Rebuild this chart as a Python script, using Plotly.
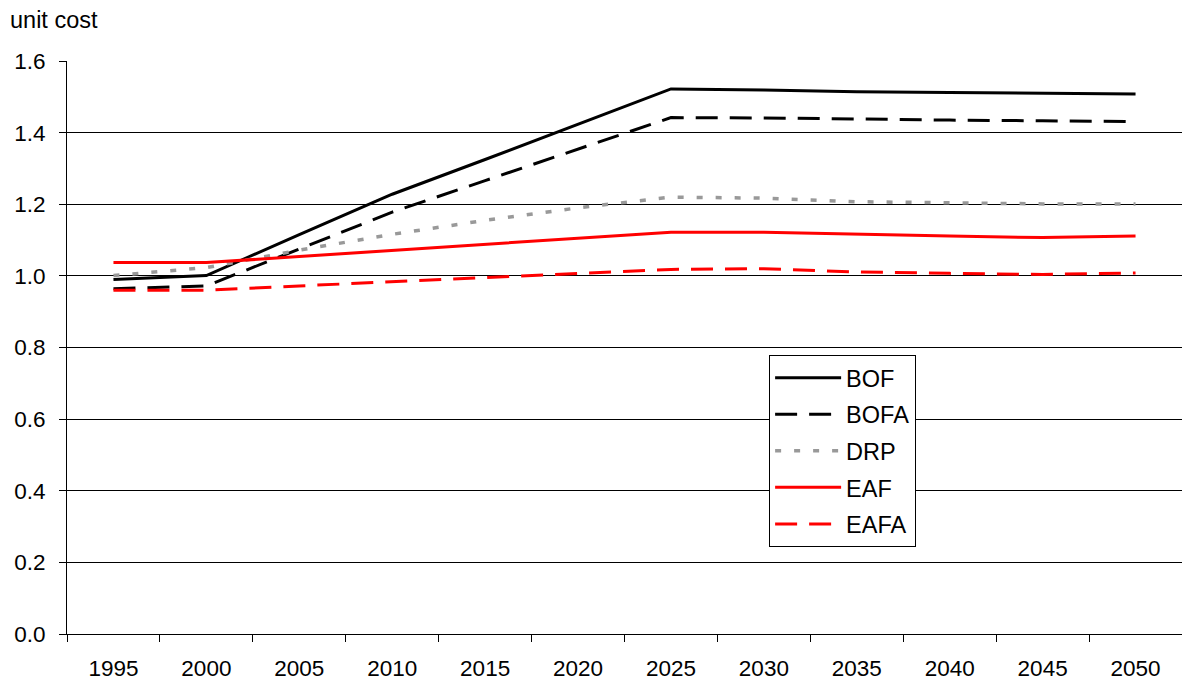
import plotly.graph_objects as go

years = ["1995", "2000", "2005", "2010", "2015", "2020", "2025", "2030", "2035", "2040", "2045", "2050"]
bof = [0.990, 1.001, 1.115, 1.228, 1.325, 1.424, 1.522, 1.519, 1.514, 1.512, 1.510, 1.508]
bofa = [0.964, 0.972, 1.075, 1.178, 1.266, 1.355, 1.442, 1.441, 1.437, 1.435, 1.433, 1.431]
drp = [1.001, 1.023, 1.072, 1.116, 1.155, 1.190, 1.220, 1.217, 1.207, 1.204, 1.201, 1.201]
eaf = [1.037, 1.037, 1.054, 1.071, 1.088, 1.105, 1.122, 1.122, 1.116, 1.111, 1.107, 1.111]
eafa = [0.960, 0.960, 0.972, 0.983, 0.995, 1.006, 1.018, 1.020, 1.011, 1.007, 1.004, 1.008]
y_ticks = [0.0, 0.2, 0.4, 0.6, 0.8, 1.0, 1.2, 1.4, 1.6]

FONT = "Arial, Liberation Sans, sans-serif"

series = [
    ("BOF", bof, "#000000", "solid", 3),
    ("BOFA", bofa, "#000000", "22px,12px", 3),
    ("DRP", drp, "#999999", "6px,13px", 3.5),
    ("EAF", eaf, "#ff0000", "solid", 3),
    ("EAFA", eafa, "#ff0000", "22px,12px", 3),
]

fig = go.Figure()
for name, vals, color, dash, w in series:
    fig.add_trace(go.Scatter(
        x=years, y=vals, name=name, mode="lines", legendgroup=name,
        line=dict(color=color, dash=dash, width=w),
    ))

fig.update_layout(
    width=1182, height=682,
    margin=dict(l=67, r=0, t=61, b=48),
    paper_bgcolor="white", plot_bgcolor="white",
    font=dict(family=FONT, size=22.5, color="black"),
    showlegend=True,
    legend=dict(
        x=0.6297, y=0.487, xanchor="left", yanchor="top",
        bordercolor="black", borderwidth=1, bgcolor="white",
        font=dict(size=23.5), tracegroupgap=3, itemwidth=66,
    ),
    annotations=[dict(
        text="unit cost", xref="paper", yref="paper",
        x=-0.0525, y=1.072, xanchor="left", yanchor="middle",
        showarrow=False, font=dict(size=23.5),
    )],
)
fig.update_xaxes(
    type="category", range=[-0.5, 11.5], tickson="boundaries",
    ticks="outside", ticklen=7, tickcolor="black", tickwidth=1,
    showline=True, linecolor="black", linewidth=1, showgrid=False,
    zeroline=False, ticklabelstandoff=14,
)
fig.update_yaxes(
    range=[0, 1.6], tickvals=y_ticks, tickformat=".1f",
    ticks="outside", ticklen=7, tickcolor="black", tickwidth=1,
    showline=True, linecolor="black", linewidth=1,
    showgrid=True, gridcolor="black", gridwidth=1, zeroline=False,
    ticklabelstandoff=9,
)
fig.write_html("out.html", config={"displayModeBar": False},
               post_script="document.body.style.margin='0';")
